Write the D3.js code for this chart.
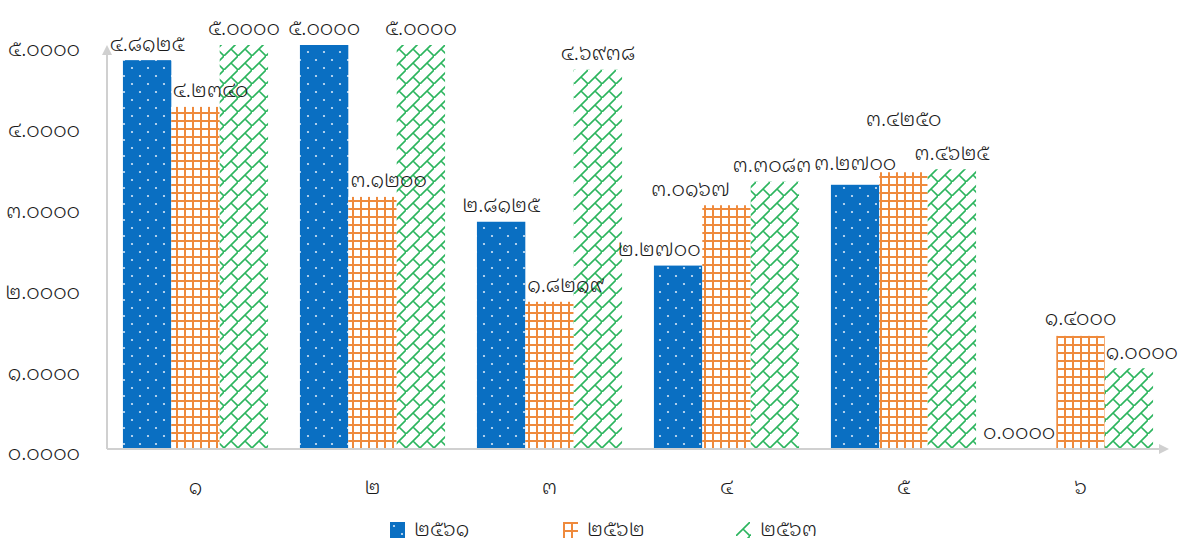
<!DOCTYPE html>
<html>
<head>
<meta charset="utf-8">
<script src="https://d3js.org/d3.v7.min.js"></script>
<style>
  body { margin: 0; background: #fff; }
  svg text { font-family: "Noto Sans Thai Looped", "Sarabun", sans-serif; font-weight: 300; fill: #1a1a1a; }
</style>
</head>
<body>
<div id="chart"></div>
<script>
// data
var categories = ["๑", "๒", "๓", "๔", "๕", "๖"];
var seriesNames = ["๒๕๖๑", "๒๕๖๒", "๒๕๖๓"];
var values2561 = [4.8125, 5.0000, 2.8125, 2.2700, 3.2700, 0.0000];
var values2562 = [4.2340, 3.1200, 1.8219, 3.0167, 3.4250, 1.4000];
var values2563 = [5.0000, 5.0000, 4.6938, 3.3083, 3.4625, 1.0000];
var yTicks = [0, 1, 2, 3, 4, 5];

var seriesValues = [values2561, values2562, values2563];

var thaiDigits = "๐๑๒๓๔๕๖๗๘๙";
function thai(s) { return s.replace(/[0-9]/g, function(c) { return thaiDigits[+c]; }); }
function fmt(v) { return thai(v.toFixed(4)); }

var W = 1185, H = 544;
var mLeft = 107, mRight = 1169, mTop = 45, mBottom = 449;
var fontSize = "21px";

var svg = d3.select("#chart").append("svg")
  .attr("width", W).attr("height", H);

// patterns
var defs = svg.append("defs");
var pBlue = defs.append("pattern").attr("id", "pBlue")
  .attr("patternUnits", "userSpaceOnUse").attr("width", 16).attr("height", 16);
pBlue.append("rect").attr("width", 16).attr("height", 16).attr("fill", "#0a6fc2");
pBlue.append("circle").attr("cx", 4).attr("cy", 4).attr("r", 1.1).attr("fill", "#d6e6f7");
pBlue.append("circle").attr("cx", 12).attr("cy", 12).attr("r", 1.1).attr("fill", "#d6e6f7");

var pOrange = defs.append("pattern").attr("id", "pOrange")
  .attr("patternUnits", "userSpaceOnUse").attr("width", 8).attr("height", 8);
pOrange.append("rect").attr("width", 8).attr("height", 8).attr("fill", "#ef8a3c");
pOrange.append("rect").attr("x", 2).attr("y", 2).attr("width", 6).attr("height", 6).attr("fill", "#fff");

var pGreen = defs.append("pattern").attr("id", "pGreen")
  .attr("patternUnits", "userSpaceOnUse").attr("width", 14).attr("height", 14);
pGreen.append("rect").attr("width", 14).attr("height", 14).attr("fill", "#fff");
pGreen.append("path").attr("d", "M-1,15 L15,-1 M7,7 L14,14")
  .attr("stroke", "#2cb55e").attr("stroke-width", 1.6).attr("fill", "none");

var fills = ["url(#pBlue)", "url(#pOrange)", "url(#pGreen)"];

defs.append("marker").attr("id", "arrow")
  .attr("viewBox", "0 0 10 10").attr("refX", 2).attr("refY", 5)
  .attr("markerWidth", 5).attr("markerHeight", 5).attr("orient", "auto")
  .append("path").attr("d", "M0,0 L10,5 L0,10 z").attr("fill", "#d0d0d0");

// scales
var x0 = d3.scaleBand().domain(categories).range([mLeft, mRight])
  .paddingInner(0.18).paddingOuter(0.09);
var x1 = d3.scaleBand().domain(d3.range(seriesNames.length)).range([0, x0.bandwidth()]);
var y = d3.scaleLinear().domain([0, 5]).range([mBottom, mTop]);

// bars
var bars = [];
seriesValues.forEach(function(vals, s) {
  vals.forEach(function(v, i) {
    bars.push({ s: s, i: i, v: v,
      x: x0(categories[i]) + x1(s), w: x1.bandwidth(), y: y(v), h: mBottom - y(v) });
  });
});

svg.append("g").selectAll("rect").data(bars).enter().append("rect")
  .attr("x", function(d) { return d.x; })
  .attr("y", function(d) { return d.y; })
  .attr("width", function(d) { return d.w; })
  .attr("height", function(d) { return d.h; })
  .attr("fill", function(d) { return fills[d.s]; });

// axes
svg.append("line").attr("x1", mLeft).attr("x2", mLeft).attr("y1", mBottom).attr("y2", mTop + 8)
  .attr("stroke", "#d0d0d0").attr("stroke-width", 2).attr("marker-end", "url(#arrow)");
svg.append("line").attr("x1", mLeft).attr("x2", mRight - 8).attr("y1", mBottom).attr("y2", mBottom)
  .attr("stroke", "#d0d0d0").attr("stroke-width", 2).attr("marker-end", "url(#arrow)");

svg.append("g").selectAll("text").data(yTicks).enter().append("text")
  .attr("x", 80).attr("y", function(d) { return y(d) + 4; })
  .attr("dy", "0.35em").attr("text-anchor", "end")
  .style("font-size", fontSize)
  .text(function(d) { return fmt(d); });

svg.append("g").selectAll("text").data(categories).enter().append("text")
  .attr("x", function(d) { return x0(d) + x0.bandwidth() / 2; })
  .attr("y", 487).attr("dy", "0.35em").attr("text-anchor", "middle")
  .style("font-size", fontSize)
  .text(function(d) { return d; });

// value labels: start above the bar, then take the nearest spot that
// clears the solid bars and the labels already placed
var placed = [];
var solid = bars.filter(function(b) { return b.s < 2 && b.h > 0; });
var labelOrder = [0, 2, 1];
function hits(a, b) {
  return a.x1 > b.x0 && a.x0 < b.x1 && a.y1 > b.y0 && a.y0 < b.y1;
}
var lblG = svg.append("g");
labelOrder.forEach(function(s) {
  bars.filter(function(b) { return b.s === s; }).forEach(function(b) {
    var t = lblG.append("text").style("font-size", fontSize).attr("text-anchor", "middle")
      .attr("x", 0).attr("y", 0).attr("dy", "0.35em")
      .text(fmt(b.v));
    var bb = t.node().getBBox();
    var cx = b.x + b.w / 2, cy = b.y - 17;
    var best = null;
    for (var dy = 0; dy >= -70; dy--) {
      for (var dx = -50; dx <= 50; dx++) {
        var cost = Math.abs(dx) + 1.5 * Math.abs(dy);
        if (best && cost >= best.cost) continue;
        var bx = cx + dx, by = cy + dy;
        var box = { x0: bx + bb.x - 1, x1: bx + bb.x + bb.width + 1, y0: by + bb.y, y1: by + bb.y + bb.height };
        if (box.x1 > W - 2) continue;
        var bodyBox = { x0: box.x0, x1: box.x1, y0: by - 9, y1: by + 9 };
        var ok = true;
        for (var k = 0; k < solid.length && ok; k++) {
          var r = solid[k];
          if (r === b) continue;
          if (hits(bodyBox, { x0: r.x, x1: r.x + r.w, y0: r.y, y1: r.y + r.h })) ok = false;
        }
        for (var m = 0; m < placed.length && ok; m++) if (hits(box, placed[m])) ok = false;
        if (ok) best = { cost: cost, dx: dx, dy: dy, box: box };
      }
    }
    if (!best) best = { dx: 0, dy: 0, box: { x0: cx, x1: cx, y0: cy, y1: cy } };
    placed.push(best.box);
    t.attr("x", cx + best.dx).attr("y", cy + best.dy);
  });
});

// legend
var leg = svg.append("g").selectAll("g").data(seriesNames).enter().append("g")
  .attr("transform", function(d, i) { return "translate(" + (390 + i * 173) + ",522)"; });
leg.append("rect").attr("width", 15).attr("height", 16)
  .attr("fill", function(d, i) { return fills[i]; });
leg.append("text").attr("x", 24).attr("y", 8).attr("dy", "0.3em")
  .style("font-size", fontSize)
  .text(function(d) { return d; });
</script>
</body>
</html>
